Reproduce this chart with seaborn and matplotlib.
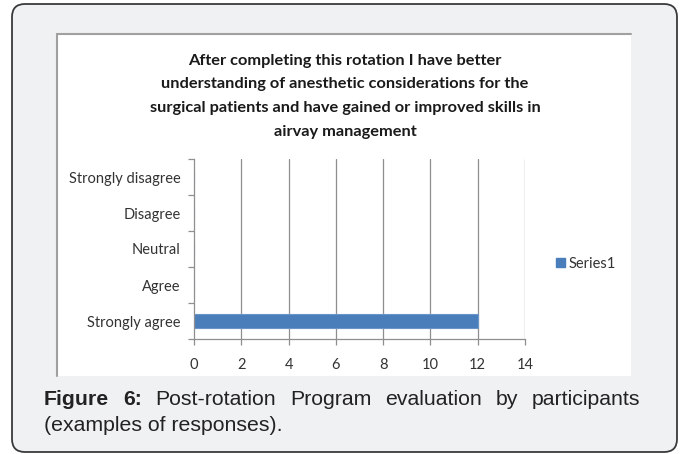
import matplotlib
matplotlib.use("Agg")
import matplotlib.pyplot as plt
import seaborn as sns
import pandas as pd
from matplotlib.patches import FancyBboxPatch, Rectangle, Patch
from matplotlib.lines import Line2D
from matplotlib.transforms import IdentityTransform

# ---- data ----
categories = ["Strongly disagree", "Disagree", "Neutral", "Agree", "Strongly agree"]
values = [0, 0, 0, 0, 12]
series_name = "Series1"
x_ticks = [0, 2, 4, 6, 8, 10, 12, 14]
title_lines = [
    "After completing this rotation I have better",
    "understanding of anesthetic considerations for the",
    "surgical patients and have gained or improved skills in",
    "airvay management",
]
caption_bold = "Figure 6:"
caption_line1 = "Post-rotation Program evaluation by participants"
caption_line2 = "(examples of responses)."

df = pd.DataFrame({"category": categories, "value": values})

W, H = 682, 454
sns.set_theme(style="white")
plt.rcParams["font.family"] = ["Lato", "DejaVu Sans"]
fig = plt.figure(figsize=(W / 100, H / 100), dpi=100)
fig.patch.set_facecolor("white")

def px(x, y):
    return x, H - y

# outer rounded frame
outer = FancyBboxPatch(px(12, 452), 665, 448,
                       boxstyle="round,pad=0,rounding_size=13",
                       transform=IdentityTransform(), facecolor="#f0f1f3",
                       edgecolor="#3a3a3a", linewidth=1.3, zorder=0)
fig.patches.append(outer)

# white chart box
box = Rectangle(px(57, 376), 574, 342, transform=IdentityTransform(),
                facecolor="white", edgecolor="none", zorder=1)
fig.patches.append(box)
fig.lines.append(Line2D([57, 57], [H - 376, H - 34], transform=IdentityTransform(),
                        color="#a0a0a0", lw=1.5, zorder=2))
fig.lines.append(Line2D([57, 631], [H - 34, H - 34], transform=IdentityTransform(),
                        color="#a0a0a0", lw=1.5, zorder=2))

# axes
ax_l, ax_r, ax_t, ax_b = 194, 525, 159, 339
ax = fig.add_axes([ax_l / W, 1 - ax_b / H, (ax_r - ax_l) / W, (ax_b - ax_t) / H])
ax.set_facecolor("none")
ax.set_zorder(3)

sns.barplot(data=df, y="category", x="value", orient="h", order=categories,
            color="#4a7ebb", width=0.4, ax=ax, edgecolor="#6b95c9", linewidth=0.8,
            saturation=1)
ax.set_xlim(0, 14)
ax.set_ylim(4.5, -0.5)
ax.set_xticks(x_ticks)
ax.set_xticklabels([str(t) for t in x_ticks])
ax.set_xlabel("")
ax.set_ylabel("")
for t in x_ticks[1:]:
    ax.axvline(t, color="#8f8f8f", lw=0.9, zorder=0)

for s in ["top", "right"]:
    ax.spines[s].set_visible(False)
for s in ["left", "bottom"]:
    ax.spines[s].set_color("#8f8f8f")
    ax.spines[s].set_linewidth(0.9)

tick_font = 10.5
ax.tick_params(axis="x", which="major", direction="out", length=4, width=0.9,
               color="#8f8f8f", labelsize=tick_font, labelcolor="#333333", pad=10, bottom=True)
ax.set_yticks(range(len(categories)))
ax.set_yticklabels(categories)
ax.tick_params(axis="y", which="major", length=0, labelsize=tick_font,
               labelcolor="#333333", pad=9.5)
ax.set_yticks([i - 0.5 for i in range(len(categories) + 1)], minor=True)
ax.tick_params(axis="y", which="minor", direction="out", length=4, width=0.9,
               color="#8f8f8f", left=True)

# legend
leg = fig.legend(handles=[Patch(facecolor="#4a7ebb", edgecolor="#4a7ebb", label=series_name)],
                 loc="center left", bbox_to_anchor=(556 / W, 1 - 264 / H),
                 frameon=False, fontsize=tick_font, handlelength=0.6, handleheight=0.6,
                 handletextpad=0.25, borderpad=0, borderaxespad=0)
for t in leg.get_texts():
    t.set_color("#333333")

# title
title_y = [61, 84, 108, 132]
for line, y in zip(title_lines, title_y):
    fig.text(345 / W, 1 - y / H, line, ha="center", va="center", fontsize=11.8,
             fontweight="bold", color="#1a1a1a", zorder=4)

# caption (justified first line)
renderer = fig.canvas.get_renderer()
cap_font = ["Liberation Sans", "DejaVu Sans"]
cap_size = 15.3
left_x, right_x = 44, 640
base1, base2 = H - 405, H - 431
words = [(w, "bold") for w in caption_bold.split()] + \
        [(w, "normal") for w in caption_line1.split()]
texts = []
widths = []
for w, weight in words:
    t = fig.text(0, 0, w, fontsize=cap_size, fontweight=weight, family=cap_font,
                 color="#222222", transform=IdentityTransform(), va="baseline",
                 ha="left", zorder=4)
    texts.append(t)
    widths.append(t.get_window_extent(renderer).width)
gap = (right_x - left_x - sum(widths)) / (len(words) - 1)
x = left_x
for t, wd in zip(texts, widths):
    t.set_position((x, base1))
    x += wd + gap
fig.text(left_x, base2, caption_line2, fontsize=cap_size, family=cap_font,
         color="#222222", transform=IdentityTransform(), va="baseline", ha="left",
         zorder=4)

fig.savefig("out.png", dpi=100, facecolor="white")
